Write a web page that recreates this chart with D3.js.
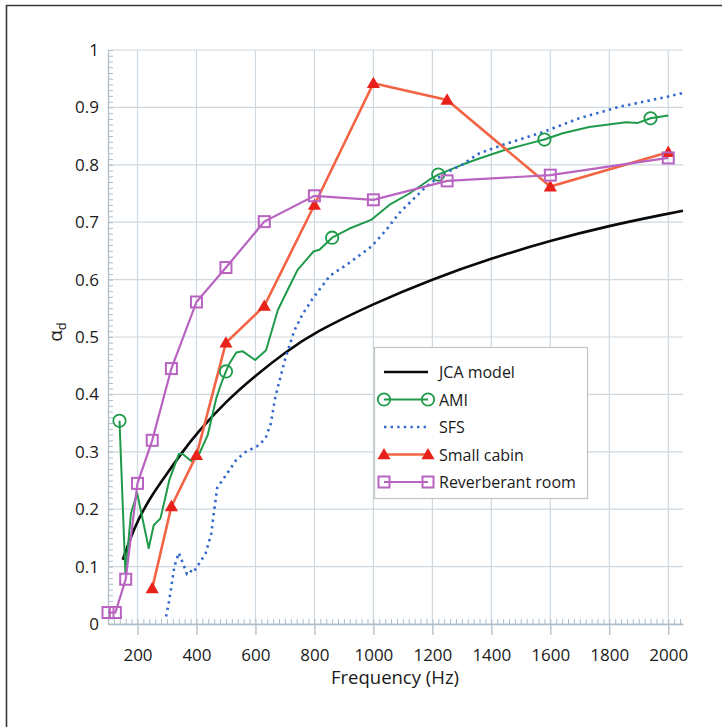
<!DOCTYPE html>
<html>
<head>
<meta charset="utf-8">
<script src="https://cdn.jsdelivr.net/npm/d3@7"></script>
<style>
  body { margin: 0; background: #fff; }
  svg text { font-family: "Open Sans", sans-serif; fill: #1a1a1a; }
</style>
</head>
<body>
<svg id="chart" width="722" height="727"></svg>
<script>
// third octave bands (reverberant room + small cabin)
var thirdOctave = [100, 125, 160, 200, 250, 315, 400, 500, 630, 800, 1000, 1250, 1600, 2000];
var reverbRoom = [0.02, 0.02, 0.078, 0.245, 0.32, 0.445, 0.561, 0.621, 0.701, 0.746, 0.739, 0.772, 0.782, 0.812];

var cabinFreq = [250, 315, 400, 500, 630, 800, 1000, 1250, 1600, 2000];
var smallCabin = [0.062, 0.205, 0.294, 0.49, 0.554, 0.73, 0.942, 0.913, 0.762, 0.822];

// JCA model
var jcaFreq = [150, 175, 200, 250, 300, 350, 400, 500, 600, 700, 800, 1000, 1200, 1400, 1600, 1800, 2000, 2050];
var jcaModel = [0.112, 0.148, 0.18, 0.226, 0.262, 0.298, 0.332, 0.388, 0.433, 0.473, 0.508, 0.558, 0.601, 0.637, 0.668, 0.694, 0.715, 0.72];

// AMI
var amiFreq = [139, 159, 178, 199, 238, 255, 278, 308, 340, 353, 382, 410, 438, 467, 484, 500, 512, 535, 557, 599, 636, 676, 715, 743, 797, 817, 860, 919, 992, 1054, 1122, 1190, 1220, 1300, 1359, 1440, 1520, 1580, 1642, 1732, 1857, 1897, 1940, 2000];
var ami = [0.354, 0.088, 0.193, 0.228, 0.132, 0.172, 0.184, 0.251, 0.296, 0.296, 0.284, 0.297, 0.329, 0.393, 0.419, 0.44, 0.454, 0.473, 0.475, 0.46, 0.477, 0.547, 0.588, 0.617, 0.649, 0.652, 0.673, 0.689, 0.704, 0.73, 0.75, 0.774, 0.783, 0.8, 0.811, 0.825, 0.836, 0.844, 0.855, 0.866, 0.874, 0.873, 0.881, 0.886];
var amiMarkerFreq = [139, 500, 860, 1220, 1580, 1940];

// SFS
var sfsFreq = [297, 308, 325, 340, 354, 367, 376, 388, 410, 431, 450, 470, 497, 535, 568, 614, 636, 652, 668, 700, 731, 760, 793, 853, 907, 992, 1043, 1088, 1133, 1179, 1213, 1250, 1300, 1359, 1440, 1520, 1580, 1698, 1834, 2000, 2048];
var sfs = [0.013, 0.042, 0.1, 0.124, 0.106, 0.088, 0.094, 0.089, 0.106, 0.123, 0.157, 0.237, 0.257, 0.286, 0.3, 0.312, 0.326, 0.349, 0.397, 0.46, 0.51, 0.54, 0.566, 0.607, 0.625, 0.657, 0.686, 0.716, 0.739, 0.762, 0.775, 0.787, 0.8, 0.82, 0.835, 0.848, 0.858, 0.881, 0.901, 0.919, 0.925];

var xTicks = [200, 400, 600, 800, 1000, 1200, 1400, 1600, 1800, 2000];
var yTicks = [0, 0.1, 0.2, 0.3, 0.4, 0.5, 0.6, 0.7, 0.8, 0.9, 1];

var legendNames = ["JCA model", "AMI", "SFS", "Small cabin", "Reverberant room"];

var svg = d3.select("#chart");
var pLeft = 108, pRight = 683, pTop = 50, pBottom = 624;

var x = d3.scaleLinear().domain([100, 2050]).range([pLeft, pRight]);
var y = d3.scaleLinear().domain([0, 1]).range([pBottom, pTop]);

var gridColor = "#cdd8e0";
var axisColor = "#aebdc8";

// outer frame (cut at right/bottom like the scan)
svg.append("path")
    .attr("d", "M6.5,740 L6.5,5.5 L730,5.5")
    .attr("fill", "none")
    .attr("stroke", "#3a3a3a")
    .attr("stroke-width", 1.6);

// grid
svg.append("g").selectAll("line").data(yTicks).join("line")
    .attr("x1", pLeft).attr("x2", pRight)
    .attr("y1", d => y(d)).attr("y2", d => y(d))
    .attr("stroke", gridColor).attr("stroke-width", 1.2);
svg.append("g").selectAll("line").data(xTicks).join("line")
    .attr("x1", d => x(d)).attr("x2", d => x(d))
    .attr("y1", pTop).attr("y2", pBottom)
    .attr("stroke", gridColor).attr("stroke-width", 1.2);

// minor ticks
var minorX = d3.range(100, 2050, 20);
var minorY = d3.range(0, 1.0001, 0.01);
var gMinX = svg.append("g")
    .attr("transform", "translate(0," + pBottom + ")")
    .call(d3.axisBottom(x).tickValues(minorX).tickSize(-5).tickFormat(""));
var gMinY = svg.append("g")
    .attr("transform", "translate(" + pLeft + ",0)")
    .call(d3.axisLeft(y).tickValues(minorY).tickSize(-5).tickFormat(""));
[gMinX, gMinY].forEach(g => {
    g.select(".domain").remove();
    g.selectAll("line").attr("stroke", axisColor).attr("stroke-width", 1);
});

// major axes
var gx = svg.append("g")
    .attr("transform", "translate(0," + pBottom + ")")
    .call(d3.axisBottom(x).tickValues(xTicks).tickSize(11).tickPadding(14).tickSizeOuter(0)
        .tickFormat(d3.format("d")));
var gy = svg.append("g")
    .attr("transform", "translate(" + pLeft + ",0)")
    .call(d3.axisLeft(y).tickValues(yTicks).tickSize(0).tickPadding(9)
        .tickFormat(d => (d === 0 || d === 1) ? String(d) : d.toFixed(1)));
[gx, gy].forEach(g => {
    g.select(".domain").attr("stroke", axisColor).attr("stroke-width", 1.3);
    g.selectAll("line").attr("stroke", axisColor).attr("stroke-width", 1.3);
    g.selectAll("text").attr("font-size", 17).attr("font-family", "Open Sans").attr("fill", "#1a1a1a");
});

// axis titles
svg.append("text")
    .attr("x", (pLeft + pRight) / 2 - 0.5).attr("y", 684)
    .attr("text-anchor", "middle")
    .attr("font-size", 18.5)
    .text("Frequency (Hz)");

var yt = svg.append("text")
    .attr("transform", "translate(62,332) rotate(-90)")
    .attr("text-anchor", "middle")
    .attr("font-size", 19);
yt.append("tspan").text("α");
yt.append("tspan").attr("dy", 4).attr("font-size", 13).text("d");

// series
var line = d3.line().x(d => x(d[0])).y(d => y(d[1]));
function pairs(fs, vs) { return fs.map((f, i) => [f, vs[i]]); }

var colors = {
    jca: "#0a0a0a",
    ami: "#1f9a4a",
    sfs: "#3468cc",
    cabinLine: "#f26444",
    cabinMark: "#e8211b",
    reverb: "#b863c0"
};

var plot = svg.append("g");

plot.append("path")
    .datum(pairs(jcaFreq, jcaModel))
    .attr("d", d3.line().x(d => x(d[0])).y(d => y(d[1])).curve(d3.curveBasis))
    .attr("fill", "none").attr("stroke", colors.jca).attr("stroke-width", 2.6);

var amiData = pairs(amiFreq, ami);
plot.append("path")
    .datum(amiData)
    .attr("d", line)
    .attr("fill", "none").attr("stroke", colors.ami).attr("stroke-width", 2)
    .attr("stroke-linejoin", "round");

plot.append("path")
    .datum(pairs(sfsFreq, sfs))
    .attr("d", line)
    .attr("fill", "none").attr("stroke", colors.sfs).attr("stroke-width", 2.6)
    .attr("stroke-dasharray", "2.4,4.2");

var cabinData = pairs(cabinFreq, smallCabin);
plot.append("path")
    .datum(cabinData)
    .attr("d", line)
    .attr("fill", "none").attr("stroke", colors.cabinLine).attr("stroke-width", 2.6);

var reverbData = pairs(thirdOctave, reverbRoom);
plot.append("path")
    .datum(reverbData)
    .attr("d", line)
    .attr("fill", "none").attr("stroke", colors.reverb).attr("stroke-width", 2.2);

// markers
function drawCircle(g, cx, cy) {
    g.append("circle").attr("cx", cx).attr("cy", cy).attr("r", 6.2)
        .attr("fill", "none").attr("stroke", colors.ami).attr("stroke-width", 1.8);
}
function drawTri(g, cx, cy) {
    g.append("path")
        .attr("transform", "translate(" + cx + "," + (cy + 1) + ")")
        .attr("d", d3.symbol(d3.symbolTriangle, 75)())
        .attr("fill", colors.cabinMark);
}
function drawSquare(g, cx, cy) {
    g.append("rect").attr("x", cx - 5.5).attr("y", cy - 5.5)
        .attr("width", 11).attr("height", 11)
        .attr("fill", "none").attr("stroke", colors.reverb).attr("stroke-width", 2);
}

amiData.filter(d => amiMarkerFreq.includes(d[0]))
    .forEach(d => drawCircle(plot, x(d[0]), y(d[1])));
cabinData.forEach(d => drawTri(plot, x(d[0]), y(d[1])));
reverbData.forEach(d => drawSquare(plot, x(d[0]), y(d[1])));

// legend
var lg = svg.append("g");
lg.append("rect")
    .attr("x", 374.5).attr("y", 347.5).attr("width", 213).attr("height", 151)
    .attr("fill", "#fff").attr("stroke", "#c4c4c4").attr("stroke-width", 1.2);

var ly0 = 372, ldy = 27.5, lx1 = 384, lx2 = 428;
legendNames.forEach((name, i) => {
    var ly = ly0 + i * ldy;
    var ln = lg.append("line").attr("x1", lx1).attr("x2", lx2).attr("y1", ly).attr("y2", ly);
    if (i === 0) ln.attr("stroke", colors.jca).attr("stroke-width", 2.4);
    if (i === 1) ln.attr("stroke", colors.ami).attr("stroke-width", 2);
    if (i === 2) ln.attr("stroke", colors.sfs).attr("stroke-width", 2.6).attr("stroke-dasharray", "2.4,4.2");
    if (i === 3) ln.attr("stroke", colors.cabinLine).attr("stroke-width", 2.6);
    if (i === 4) ln.attr("stroke", colors.reverb).attr("stroke-width", 2.2);
    [lx1, lx2].forEach(cx => {
        if (i === 1) drawCircle(lg, cx, ly);
        if (i === 3) drawTri(lg, cx, ly);
        if (i === 4) drawSquare(lg, cx, ly);
    });
    lg.append("text")
        .attr("x", 439).attr("y", ly + 6)
        .attr("font-size", 16)
        .text(name);
});
</script>
</body>
</html>
